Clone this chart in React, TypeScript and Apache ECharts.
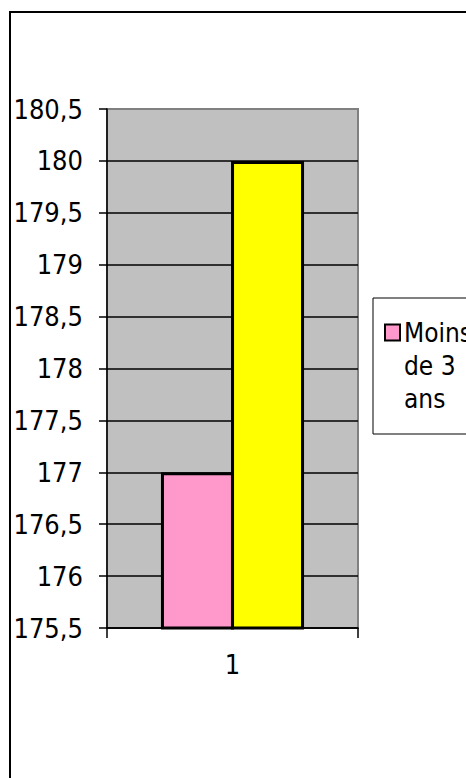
import React, { useEffect, useRef } from "react";
import * as echarts from "echarts";

const categories = ["1"];
const seriesNames = ["Moins de 3 ans", "Plus de 3 ans"];
const lessThan3 = [177];
const moreThan3 = [180];
const yMin = 175.5;
const yMax = 180.5;
const yStep = 0.5;

const FONT = "'DejaVu Sans Condensed', 'Liberation Sans', sans-serif";

export default function App() {
  const ref = useRef<HTMLDivElement>(null);
  useEffect(() => {
    if (!ref.current) return;
    const chart = echarts.init(ref.current, null, { renderer: "svg" });
    chart.setOption({
      animation: false,
      backgroundColor: "#ffffff",
      textStyle: { fontFamily: FONT },
      graphic: [
        {
          type: "rect",
          shape: { x: 10, y: 12, width: 520, height: 820 },
          style: { fill: "none", stroke: "#000", lineWidth: 2 },
          silent: true,
          z: 0,
        },
      ],
      grid: {
        left: 107,
        top: 109,
        right: 108,
        bottom: 150,
        show: true,
        backgroundColor: "#c0c0c0",
        borderColor: "#808080",
        borderWidth: 2,
      },
      legend: {
        data: [seriesNames[0]],
        left: 373,
        top: 298,
        padding: [18, 30, 19, 8],
        borderColor: "#000",
        borderWidth: 1,
        backgroundColor: "#fff",
        icon: "none",
        itemWidth: 0,
        itemHeight: 0,
        selectedMode: false,
        formatter: () => "{m|}{t|Moins}\n{s|}{t|de 3}\n{s|}{t|ans}",
        textStyle: {
          color: "#000",
          fontFamily: FONT,
          fontSize: 26,
          lineHeight: 33,
          rich: {
            m: {
              width: 13,
              height: 14,
              backgroundColor: "#FF99CC",
              borderColor: "#000",
              borderWidth: 2,
            },
            s: { width: 13, height: 12 },
            t: {
              fontFamily: FONT,
              fontSize: 26,
              lineHeight: 33,
              color: "#000",
              padding: [0, 0, 0, 5],
            },
          },
        },
      },
      xAxis: {
        type: "category",
        data: categories,
        boundaryGap: true,
        axisLine: { show: true, lineStyle: { color: "#000", width: 1.5 } },
        axisTick: { show: true, length: 10, lineStyle: { color: "#000", width: 1.5 } },
        axisLabel: { color: "#000", fontSize: 27, margin: 23, fontFamily: FONT },
        splitLine: { show: false },
      },
      yAxis: {
        type: "value",
        min: yMin,
        max: yMax,
        interval: yStep,
        axisLine: { show: true, lineStyle: { color: "#000", width: 1.5 } },
        axisTick: { show: true, length: 8, lineStyle: { color: "#000", width: 1.5 } },
        axisLabel: {
          color: "#000",
          fontSize: 27,
          margin: 24,
          fontFamily: FONT,
          formatter: (v: number) => String(v).replace(".", ","),
        },
        splitLine: {
          show: true,
          showMaxLine: false,
          lineStyle: { color: "#000", width: 1.5 },
        },
      },
      series: [
        {
          name: seriesNames[0],
          type: "bar",
          data: lessThan3,
          barWidth: 73,
          barGap: "-4%",
          itemStyle: { color: "#FF99CC", borderColor: "#000", borderWidth: 3 },
        },
        {
          name: seriesNames[1],
          type: "bar",
          data: moreThan3,
          barWidth: 73,
          barGap: "-4%",
          itemStyle: { color: "#FFFF00", borderColor: "#000", borderWidth: 3 },
        },
      ],
    });
    return () => chart.dispose();
  }, []);
  return (
    <div
      ref={ref}
      style={{ position: "absolute", left: 0, top: 0, width: 466, height: 778 }}
    />
  );
}
